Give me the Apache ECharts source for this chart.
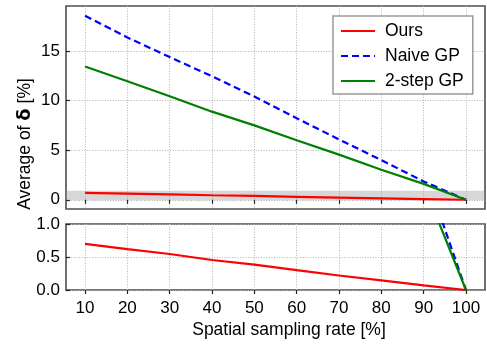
<!DOCTYPE html>
<html>
<head>
<meta charset="utf-8">
<script src="https://cdn.jsdelivr.net/npm/echarts@6/dist/echarts.min.js"></script>
<style>html,body{margin:0;padding:0;background:#fff}#c{width:487px;height:346px}</style>
</head>
<body>
<div id="c"></div>
<script>
const rates = [10, 20, 30, 40, 50, 60, 70, 80, 90, 100];
const ours = [0.70, 0.62, 0.545, 0.455, 0.385, 0.30, 0.22, 0.145, 0.07, 0];
const naiveGP = [18.55, 16.36, 14.38, 12.45, 10.4, 8.22, 6.08, 4.0, 1.85, 0];
const twoStepGP = [13.44, 11.95, 10.43, 8.88, 7.5, 6.0, 4.55, 3.02, 1.6, 0];
const xTicks = [10, 20, 30, 40, 50, 60, 70, 80, 90, 100];
const yTopTicks = [0, 5, 10, 15];
const yBottomTicks = [0, 0.5, 1.0];
const band = [-0.05, 0.92];

const FONT = "'Liberation Sans', Arial, sans-serif";
const pairs = arr => rates.map((r, i) => [r, arr[i]]);

const chart = echarts.init(document.getElementById('c'), null, {renderer: 'canvas'});

const frame = {show: true, borderColor: '#4d4d4d', borderWidth: 1.6, backgroundColor: 'transparent'};
const split = {show: true, lineStyle: {color: '#b3b3b3', width: 1, type: [1, 1.6]}};

function xAxis(gridIndex, showLabels) {
  return {
    type: 'value', gridIndex, min: 5.5, max: 104.5,
    axisLine: {show: false},
    axisTick: {show: true, inside: false, length: 4, customValues: xTicks, lineStyle: {color: '#222', width: 1.2}},
    axisLabel: {show: showLabels, customValues: xTicks, margin: 10, fontSize: 17, color: '#000', fontFamily: FONT},
    splitLine: split
  };
}
function yAxis(gridIndex, min, max, ticks, fmt) {
  return {
    type: 'value', gridIndex, min, max,
    axisLine: {show: false},
    axisTick: {show: true, inside: true, length: 4, customValues: ticks, lineStyle: {color: '#222', width: 1.2}},
    axisLabel: {show: true, customValues: ticks, margin: 6, fontSize: 17, color: '#000', fontFamily: FONT, formatter: fmt},
    splitLine: split
  };
}

function lineSeries(name, data, color, dashed, idx) {
  return {
    name, type: 'line', xAxisIndex: idx, yAxisIndex: idx, data: pairs(data),
    symbol: 'none', clip: true, z: 3,
    lineStyle: {color, width: 2.2, type: dashed ? [7, 4] : 'solid'},
    itemStyle: {color}
  };
}

const topOurs = lineSeries('Ours', ours, '#ff0000', false, 0);
topOurs.markArea = {
  silent: true,
  itemStyle: {color: 'rgba(150,150,150,0.38)'},
  data: [[{yAxis: band[0]}, {yAxis: band[1]}]]
};

chart.setOption({
  animation: false,
  backgroundColor: '#fff',
  grid: [
    Object.assign({left: 66, top: 6, width: 419, height: 203}, frame),
    Object.assign({left: 66, top: 224, width: 419, height: 66}, frame)
  ],
  xAxis: [xAxis(0, false), xAxis(1, true)],
  yAxis: [
    yAxis(0, -0.93, 19.53, yTopTicks, v => String(v)),
    yAxis(1, 0, 1, yBottomTicks, v => Number(v).toFixed(1))
  ],
  legend: {
    orient: 'vertical', left: 333, top: 16,
    padding: [6, 9, 4, 7], itemGap: 7, itemWidth: 34, itemHeight: 15,
    borderColor: '#9a9a9a', borderWidth: 1.5, borderRadius: 0, backgroundColor: '#fff',
    itemStyle: {opacity: 0},
    data: ['Ours', 'Naive GP', '2-step GP'],
    textStyle: {fontSize: 17.5, color: '#000', fontFamily: FONT, padding: [0, 0, 0, 5]}
  },
  graphic: [
    {
      type: 'text', x: 25, y: 144, rotation: Math.PI / 2,
      style: {
        text: 'Average of {b|δ} [%]',
        fontSize: 17.5, fontFamily: FONT, fill: '#000',
        align: 'center', verticalAlign: 'middle',
        rich: {b: {fontSize: 18, fontWeight: 'bold', fontFamily: "'DejaVu Sans', sans-serif", fill: '#000'}}
      }
    },
    {
      type: 'text', x: 289, y: 330,
      style: {text: 'Spatial sampling rate [%]', fontSize: 17.5, fontFamily: FONT, fill: '#000', align: 'center', verticalAlign: 'middle'}
    }
  ],
  series: [
    topOurs,
    lineSeries('Naive GP', naiveGP, '#0000ff', true, 0),
    lineSeries('2-step GP', twoStepGP, '#008000', false, 0),
    lineSeries('Ours', ours, '#ff0000', false, 1),
    lineSeries('Naive GP', naiveGP, '#0000ff', true, 1),
    lineSeries('2-step GP', twoStepGP, '#008000', false, 1)
  ]
});
</script>
</body>
</html>
